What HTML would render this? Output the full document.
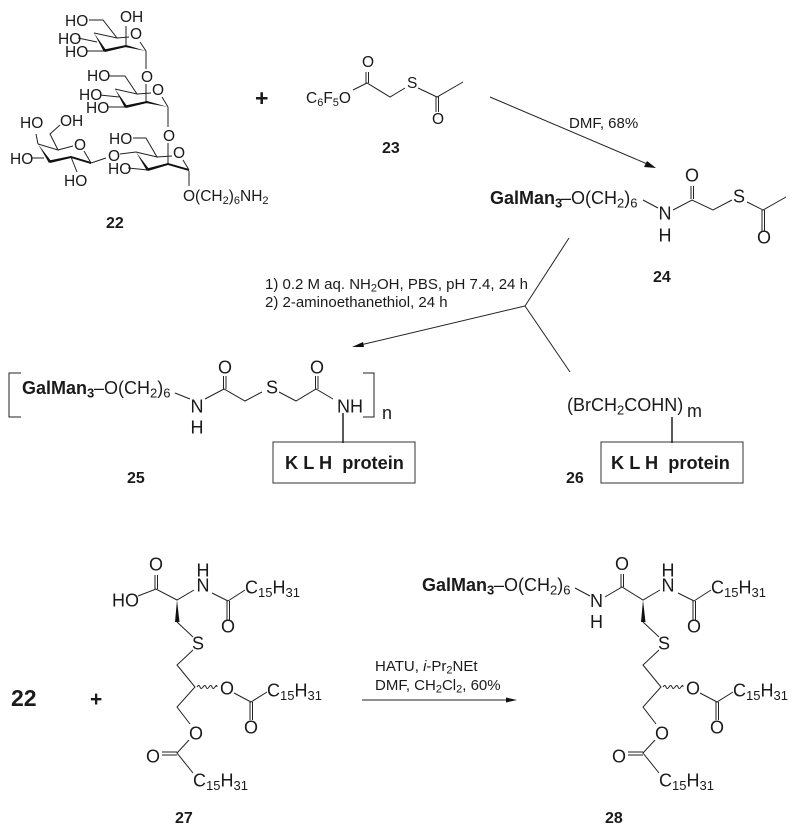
<!DOCTYPE html>
<html><head><meta charset="utf-8"><style>
html,body{margin:0;padding:0;background:#fff}
svg{display:block}
text{font-family:"Liberation Sans",sans-serif;fill:#1a1a1a}
.a{font-size:15.500px}
.b{font-size:18px}
.l{font-size:16px;font-weight:bold}
.r{font-size:15px}
.g{font-size:18px;font-weight:bold}
.k{font-size:18.200px;font-weight:bold}
line,polyline,path.s{stroke:#222;stroke-width:1;fill:none}
polygon{fill:#111;stroke:none}
rect{fill:#fff;stroke:#333;stroke-width:1}
</style></head><body>
<svg width="800" height="836" viewBox="0 0 800 836" xmlns="http://www.w3.org/2000/svg">
<!-- 22 -->
<g>
<text class="a" x="65" y="26">HO</text><text class="a" x="120" y="22">OH</text><text class="a" x="130" y="39">O</text>
<text class="a" x="58" y="44">HO</text><text class="a" x="65" y="57">HO</text>
<polyline points="89,20 103,20 117,38 94,33"/><line x1="117" y1="38" x2="129" y2="37"/>
<line x1="126" y1="46" x2="126" y2="26"/><line x1="140" y1="42" x2="146" y2="51"/>
<line x1="78" y1="38" x2="97" y2="42"/><line x1="86" y1="51" x2="105" y2="51"/>
<polygon points="94,33 106,50 104,52"/><polygon points="104,49.500 126,45 126,47 105,52"/><polygon points="126,45 146,51 125,47"/>
<line x1="146" y1="51" x2="146" y2="69"/><text class="a" x="141" y="82">O</text>
<line x1="146" y1="84" x2="146" y2="102"/>

<text class="a" x="87" y="81">HO</text><text class="a" x="152" y="95">O</text>
<text class="a" x="79" y="100">HO</text><text class="a" x="86" y="113">HO</text>
<polyline points="109,76 125,76 137,94 115,89"/><line x1="137" y1="94" x2="151" y2="93"/>
<line x1="162" y1="97" x2="168" y2="107"/><line x1="100" y1="95" x2="119" y2="97"/><line x1="107" y1="107" x2="126" y2="107"/>
<polygon points="115,89 127,106 125,108"/><polygon points="125,105.500 147,101 147,103 126,108"/><polygon points="147,101 168,107 146,103"/>
<line x1="168" y1="107" x2="168" y2="127"/><text class="a" x="163" y="141">O</text>
<line x1="168" y1="143" x2="168" y2="164"/>

<text class="a" x="109" y="144">HO</text><text class="a" x="173" y="158">O</text>
<text class="a" x="108" y="174">HO</text><text class="a" x="108" y="161">O</text>
<polyline points="133,138 146,138 157,157 136,152"/><line x1="157" y1="157" x2="172" y2="156"/>
<line x1="183" y1="160" x2="189" y2="170"/><line x1="120" y1="154" x2="136" y2="152"/><line x1="128" y1="168" x2="148" y2="170"/>
<polygon points="136,152 149,169 147,171"/><polygon points="147,168.500 168,163 168,165 148,171"/><polygon points="168,163 189,169 189,171 168,165"/>
<line x1="189" y1="171" x2="189" y2="186"/>
<text class="a" x="183" y="201">O(CH<tspan font-size="11" dy="3">2</tspan><tspan dy="-3">)</tspan><tspan font-size="11" dy="3">6</tspan><tspan dy="-3">NH</tspan><tspan font-size="11" dy="3">2</tspan></text>

<text class="a" x="20" y="128">HO</text><text class="a" x="60" y="126">OH</text><text class="a" x="74" y="150">O</text>
<text class="a" x="10" y="164">HO</text><text class="a" x="64" y="186">HO</text>
<polyline points="60,125 50,134 58,150 38,144"/><line x1="58" y1="150" x2="73" y2="146"/>
<line x1="84" y1="151" x2="91" y2="163"/><line x1="38" y1="144" x2="36" y2="134"/><line x1="31" y1="158" x2="44" y2="158"/>
<line x1="71" y1="157" x2="77" y2="172"/><line x1="91" y1="163" x2="106" y2="158"/>
<polygon points="38,144 51,161 49,163"/><polygon points="49,160.500 71,156 71,158 50,163"/><polygon points="71,156 91,162 91,164 71,158"/>
<text class="l" x="106" y="228">22</text>
</g>
<text x="255" y="106" font-size="23" font-weight="bold">+</text>

<!-- 23 -->
<text class="a" x="306" y="103">C<tspan font-size="11" dy="3">6</tspan><tspan dy="-3">F</tspan><tspan font-size="11" dy="3">5</tspan><tspan dy="-3">O</tspan></text>
<polyline points="353,90 367,83 390,97 405,88"/><polyline points="418,88 437,97 463,82"/>
<text class="a" x="407" y="88">S</text><text class="a" x="362" y="67">O</text><text class="a" x="432" y="124">O</text>
<line x1="366" y1="83" x2="366" y2="72"/><line x1="368.500" y1="83" x2="368.500" y2="72"/>
<line x1="436" y1="96" x2="436" y2="112"/><line x1="438.500" y1="96" x2="438.500" y2="112"/>
<text class="l" x="382" y="153">23</text>

<!-- arrow 1 -->
<line x1="490" y1="97" x2="652" y2="166"/><polygon points="656,168 644,167 647,161"/>
<text class="r" x="569" y="128">DMF, 68%</text>

<!-- 24 -->
<text class="g" x="490" y="204">GalMan<tspan font-size="13" dy="3.500">3</tspan></text>
<text class="b" x="561" y="204">–O(CH<tspan font-size="13" dy="3.500">2</tspan><tspan dy="-3.500">)</tspan><tspan font-size="13" dy="3.500">6</tspan></text>
<line x1="643" y1="200" x2="658" y2="208"/>
<text class="b" x="658.500" y="219.500">N</text><text class="b" x="658.500" y="241.500">H</text>
<polyline points="673,210 692,200 713,210 732,200"/><polyline points="747,202 763,210 786,197"/>
<text class="b" x="733" y="202.500">S</text><text class="b" x="685" y="181.500">O</text><text class="b" x="757" y="243.500">O</text>
<line x1="691" y1="199" x2="691" y2="186"/><line x1="693.500" y1="199" x2="693.500" y2="186"/>
<line x1="762" y1="210" x2="762" y2="231"/><line x1="764.500" y1="210" x2="764.500" y2="231"/>
<text class="l" x="653" y="282">24</text>

<!-- Y arrow -->
<line x1="569" y1="238" x2="525" y2="306"/><line x1="570" y1="372" x2="525" y2="306"/><line x1="525" y1="306" x2="356" y2="346"/>
<polygon points="352,347 363,342 364,347"/>
<text class="r" x="265" y="289">1) 0.2 M aq. NH<tspan font-size="11" dy="2.500">2</tspan><tspan dy="-2.500">OH, PBS, pH 7.4, 24 h</tspan></text>
<text class="r" x="265" y="307">2) 2-aminoethanethiol, 24 h</text>

<!-- 25 -->
<polyline points="21,373 9,373 9,417 21,417"/><polyline points="363,373 374,373 374,417 363,417"/>
<text class="g" x="22" y="394">GalMan<tspan font-size="13" dy="3.500">3</tspan></text>
<text class="b" x="94" y="394">–O(CH<tspan font-size="13" dy="3.500">2</tspan><tspan dy="-3.500">)</tspan><tspan font-size="13" dy="3.500">6</tspan></text>
<line x1="175" y1="393" x2="190" y2="399"/>
<text class="b" x="190.500" y="412.500">N</text><text class="b" x="190.500" y="433.500">H</text>
<polyline points="205,399 224,389 245,401 262,392"/><polyline points="279,392 296,401 316,389 333,399"/>
<text class="b" x="266" y="393.500">S</text><text class="b" x="218" y="373.500">O</text><text class="b" x="310" y="373.500">O</text>
<line x1="223.500" y1="389" x2="223.500" y2="376"/><line x1="226" y1="389" x2="226" y2="376"/>
<line x1="315.500" y1="389" x2="315.500" y2="376"/><line x1="318" y1="389" x2="318" y2="376"/>
<text class="b" x="337" y="412.500">NH</text><text class="b" x="382" y="419">n</text>
<rect x="273" y="442" width="142" height="41"/>
<line x1="343" y1="413" x2="343" y2="443" style="stroke-width:1.500"/>
<text class="k" x="285" y="469" xml:space="preserve">K L H  protein</text>
<text class="l" x="127" y="483">25</text>

<!-- 26 -->
<text class="b" x="567" y="411">(BrCH<tspan font-size="13" dy="3.500">2</tspan><tspan dy="-3.500">COHN)</tspan></text><text class="b" x="687" y="417">m</text>
<rect x="601" y="442" width="142" height="41"/>
<line x1="672" y1="417" x2="672" y2="443" style="stroke-width:1.500"/>
<text class="k" x="611" y="469" xml:space="preserve">K L H  protein</text>
<text class="l" x="566" y="483">26</text>

<!-- 27 -->
<text x="11" y="706" font-size="23" font-weight="bold">22</text>
<text x="90" y="706" font-size="21" font-weight="bold">+</text>
<g id="lip">
<polyline points="177,622 193,637"/><polyline points="193,650 177,665 195,687 177,707 190,724"/>
<polyline points="189,740 177,753 193,773"/><line x1="177" y1="752" x2="162" y2="752"/><line x1="177" y1="755" x2="162" y2="755"/>
<path class="s" d="M197,687 q2,-3 3,0 t3,0 t3,0 t3,0 t3,0 t3,0 t2,0"/>
<polyline points="234,693 251,702 267,692"/><line x1="250" y1="702" x2="250" y2="720"/><line x1="252.500" y1="702" x2="252.500" y2="720"/>
<polygon points="177,600 179.500,622 175,622"/>
<line x1="212" y1="593" x2="228" y2="601"/><line x1="228" y1="601" x2="245" y2="590"/>
<line x1="227" y1="601" x2="227" y2="620"/><line x1="229.500" y1="601" x2="229.500" y2="620"/>
<text class="b" x="221" y="632.500">O</text>
<text class="b" x="245" y="593.500">C<tspan font-size="13" dy="3.500">15</tspan><tspan dy="-3.500">H</tspan><tspan font-size="13" dy="3.500">31</tspan></text>
<text class="b" x="192" y="649.500">S</text>
<text class="b" x="220" y="694.500">O</text>
<text class="b" x="267" y="696.500">C<tspan font-size="13" dy="3.500">15</tspan><tspan dy="-3.500">H</tspan><tspan font-size="13" dy="3.500">31</tspan></text>
<text class="b" x="244" y="733.500">O</text>
<text class="b" x="189" y="739.500">O</text>
<text class="b" x="146" y="762.500">O</text>
<text class="b" x="193" y="786.500">C<tspan font-size="13" dy="3.500">15</tspan><tspan dy="-3.500">H</tspan><tspan font-size="13" dy="3.500">31</tspan></text>
</g>
<use href="#lip" x="466" y="0"/>
<text class="b" x="112" y="606.500">HO</text><text class="b" x="149" y="570.500">O</text><text class="b" x="196.500" y="576.500">H</text><text class="b" x="196.500" y="591.500">N</text>
<polyline points="138,596 156,589 177,600 194,590"/>
<line x1="155" y1="589" x2="155" y2="575"/><line x1="157.500" y1="589" x2="157.500" y2="575"/>
<text class="l" x="175" y="823">27</text>

<!-- arrow 3 -->
<line x1="362" y1="700" x2="512" y2="700"/><polygon points="517,700 506,697.500 506,702.500"/>
<text class="r" x="375" y="671">HATU, <tspan font-style="italic">i</tspan>-Pr<tspan font-size="11" dy="2.500">2</tspan><tspan dy="-2.500">NEt</tspan></text>
<text class="r" x="375" y="690">DMF, CH<tspan font-size="11" dy="2.500">2</tspan><tspan dy="-2.500">Cl</tspan><tspan font-size="11" dy="2.500">2</tspan><tspan dy="-2.500">, 60%</tspan></text>

<!-- 28 -->
<text class="g" x="422" y="591">GalMan<tspan font-size="13" dy="3.500">3</tspan></text>
<text class="b" x="494" y="591">–O(CH<tspan font-size="13" dy="3.500">2</tspan><tspan dy="-3.500">)</tspan><tspan font-size="13" dy="3.500">6</tspan></text>
<line x1="575" y1="588" x2="590" y2="596"/>
<text class="b" x="590" y="607">N</text><text class="b" x="590" y="628">H</text>
<polyline points="605,597 622,587 643,600 660,590"/>
<line x1="621" y1="587" x2="621" y2="574"/><line x1="623.500" y1="587" x2="623.500" y2="574"/>
<text class="b" x="615" y="570">O</text><text class="b" x="661.500" y="576.500">H</text><text class="b" x="661.500" y="591.500">N</text>
<text class="l" x="605" y="823">28</text>
</svg>
</body></html>
